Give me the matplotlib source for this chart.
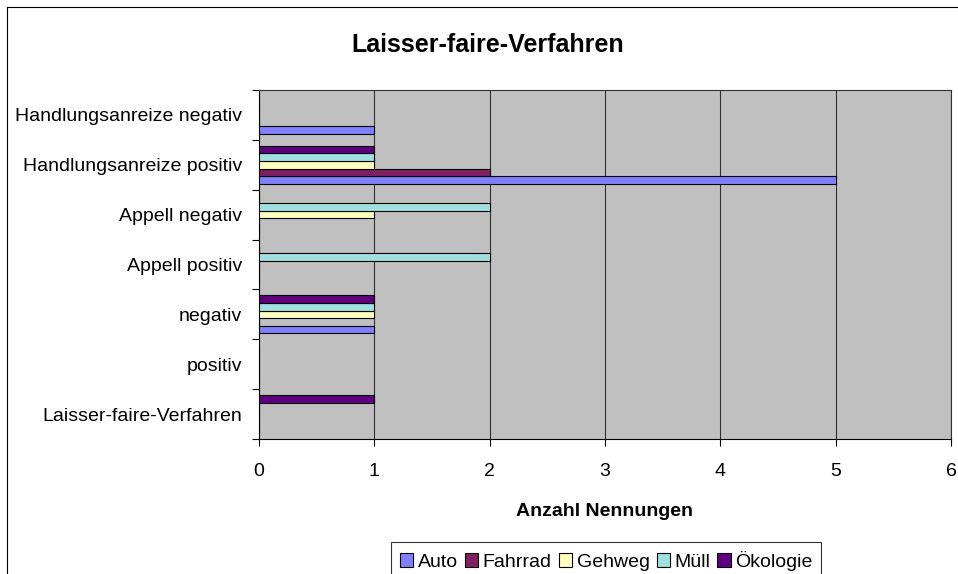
import matplotlib
matplotlib.use("Agg")
import matplotlib.pyplot as plt
import numpy as np
from matplotlib.patches import Patch
from matplotlib.lines import Line2D

plt.rcParams['font.family'] = ['Liberation Sans', 'DejaVu Sans']

categories = ["Laisser-faire-Verfahren", "positiv", "negativ", "Appell positiv",
              "Appell negativ", "Handlungsanreize positiv", "Handlungsanreize negativ"]
series = ["Auto", "Fahrrad", "Gehweg", "Müll", "Ökologie"]
auto = [0, 0, 1, 0, 0, 5, 1]
fahrrad = [0, 0, 0, 0, 0, 2, 0]
gehweg = [0, 0, 1, 0, 1, 1, 0]
muell = [0, 0, 1, 2, 2, 1, 0]
oekologie = [1, 0, 1, 0, 0, 1, 0]
values = [auto, fahrrad, gehweg, muell, oekologie]
colors = ["#8080FF", "#802060", "#FFFFC0", "#A0E0E0", "#600080"]
xticks = [0, 1, 2, 3, 4, 5, 6]

W, H = 958, 574
fig = plt.figure(figsize=(W / 100, H / 100), dpi=100)
ax = fig.add_axes([259 / W, 1 - 439 / H, (951 - 259) / W, (439 - 90) / H])
ax.set_facecolor("#C0C0C0")

bh = 0.152
y = np.arange(len(categories))
for j, (vals, c) in enumerate(zip(values, colors)):
    ax.barh(y + (j - 2) * bh, vals, height=bh, color=c, edgecolor="black",
            linewidth=0.8, zorder=3)

ax.set_xlim(0, 6)
ax.set_ylim(-0.5, len(categories) - 0.5)
ax.set_xticks(xticks)
ax.set_xticklabels([str(t) for t in xticks], fontsize=14)
ax.set_yticks(y)
ax.set_yticklabels(categories, fontsize=14)
ax.tick_params(axis='y', which='major', length=0, pad=12)
ax.set_yticks(np.arange(-0.5, len(categories)), minor=True)
ax.tick_params(axis='y', which='minor', length=5, width=0.8, direction='out')
ax.tick_params(axis='x', length=5, width=0.8, direction='out', pad=12)
ax.xaxis.grid(True, color="#303030", linewidth=0.8, zorder=1)
ax.set_axisbelow(True)
for s in ["left", "bottom"]:
    ax.spines[s].set_linewidth(0.8)
    ax.spines[s].set_color("black")
for s in ["top", "right"]:
    ax.spines[s].set_linewidth(0.8)
    ax.spines[s].set_color("#303030")

ax.set_xlabel("Anzahl Nennungen", fontsize=14, fontweight="bold", labelpad=17)
fig.text(488 / W, 1 - 45 / H, "Laisser-faire-Verfahren", fontsize=18,
         fontweight="bold", ha="center", va="center")

handles = [Patch(facecolor=c, edgecolor="black", linewidth=0.8) for c in colors]
leg = fig.legend(handles, series, loc="upper left",
                 bbox_to_anchor=(391 / W, 1 - 542 / H), ncol=5, fontsize=14,
                 frameon=True, fancybox=False, edgecolor="black",
                 handlelength=0.7, handleheight=0.7, handletextpad=0.22,
                 columnspacing=0.36, borderpad=0.45, borderaxespad=0)
leg.get_frame().set_linewidth(0.8)

fig.add_artist(Line2D([7 / W, 7 / W], [0, 1 - 7 / H], transform=fig.transFigure,
                      color="black", linewidth=0.8))
fig.add_artist(Line2D([7 / W, 1], [1 - 7 / H, 1 - 7 / H], transform=fig.transFigure,
                      color="black", linewidth=0.8))

fig.savefig("out.png", dpi=100)
